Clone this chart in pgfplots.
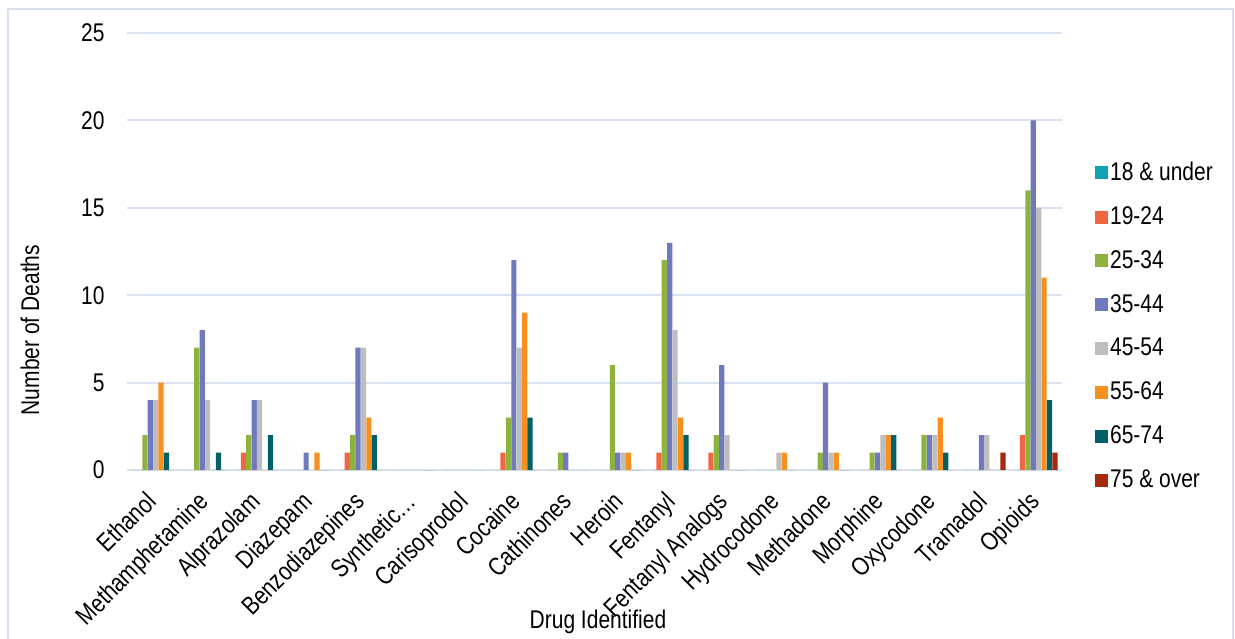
\documentclass[border=0pt]{standalone}
\usepackage{pgfplots}
\pgfplotsset{compat=1.18}
\usepackage{pgfplotstable}
\usepackage{fontspec}
\setmainfont{Liberation Sans}[FakeStretch=0.82]
\definecolor{cA}{RGB}{16,162,178}
\definecolor{cB}{RGB}{240,103,66}
\definecolor{cC}{RGB}{141,179,62}
\definecolor{cD}{RGB}{112,121,190}
\definecolor{cE}{RGB}{190,190,190}
\definecolor{cF}{RGB}{247,144,30}
\definecolor{cG}{RGB}{0,96,104}
\definecolor{cH}{RGB}{168,41,14}
\definecolor{gridc}{RGB}{217,226,241}
\definecolor{framec}{RGB}{214,224,238}
\pgfplotstableread{
x  a b c  d  e  f  g h
0  0 0 2  4  4  5  1 0
1  0 0 7  8  4  0  1 0
2  0 1 2  4  4  0  2 0
3  0 0 0  1  0  1  0 0
4  0 1 2  7  7  3  2 0
5  0 0 0  0  0  0  0 0
6  0 0 0  0  0  0  0 0
7  0 1 3  12 7  9  3 0
8  0 0 1  1  0  0  0 0
9  0 0 6  1  1  1  0 0
10 0 1 12 13 8  3  2 0
11 0 1 2  6  2  0  0 0
12 0 0 0  0  1  1  0 0
13 0 0 1  5  1  1  0 0
14 0 0 1  1  2  2  2 0
15 0 0 2  2  2  3  1 0
16 0 0 0  2  2  0  0 1
17 0 2 16 20 15 11 4 1
}\datatable
\begin{document}
\begin{tikzpicture}[font=\fontsize{12.8pt}{14pt}\selectfont]
\useasboundingbox (0,0) rectangle (617.5pt,319pt);
\draw[framec, line width=1pt] (4pt,-10pt) rectangle (616.5pt,314.5pt);
\begin{axis}[
  at={(63.5pt,84pt)}, anchor=south west,
  scale only axis, width=467.5pt, height=218.5pt,
  ybar=0.1pt, bar width=2.6pt,
  xmin=-0.5, xmax=17.5, ymin=0, ymax=25,
  xtick=data,
  xticklabels={Ethanol,Methamphetamine,Alprazolam,Diazepam,Benzodiazepines,Synthetic…,Carisoprodol,Cocaine,Cathinones,Heroin,Fentanyl,Fentanyl Analogs,Hydrocodone,Methadone,Morphine,Oxycodone,Tramadol,Opioids},
  xticklabel style={xshift=-4.2pt, yshift=-9.9pt, rotate=45, anchor=north east, inner sep=0pt},
  ytick={0,5,10,15,20,25},
  yticklabel style={inner sep=0pt, xshift=-11pt},
  /pgf/number format/assume math mode=true,
  major tick length=0pt,
  axis line style={draw=none},
  ymajorgrids, grid style={gridc, line width=1pt},
  xlabel={Drug Identified},
  ylabel={Number of Deaths},
  xlabel style={at={(axis description cs:0.5037,-0.3478)}, anchor=center},
  ylabel style={at={(axis description cs:-0.1037,0.3204)}, anchor=center},
  legend style={draw=none, fill=none, at={(axis description cs:1.035,0.71)}, anchor=north west, inner sep=0pt, row sep=9.5pt, nodes={inner sep=1pt}},
  legend cell align=left,
  legend image code/.code={\fill[#1] (0pt,-3.25pt) rectangle (6.5pt,3.25pt);},
  every axis plot/.append style={draw=none},
]
\addplot[fill=cA] table[x=x,y=a]{\datatable};
\addplot[fill=cB] table[x=x,y=b]{\datatable};
\addplot[fill=cC] table[x=x,y=c]{\datatable};
\addplot[fill=cD] table[x=x,y=d]{\datatable};
\addplot[fill=cE] table[x=x,y=e]{\datatable};
\addplot[fill=cF] table[x=x,y=f]{\datatable};
\addplot[fill=cG] table[x=x,y=g]{\datatable};
\addplot[fill=cH] table[x=x,y=h]{\datatable};
\legend{18 \& under,19-24,25-34,35-44,45-54,55-64,65-74,75 \& over}
\end{axis}
\end{tikzpicture}
\end{document}
